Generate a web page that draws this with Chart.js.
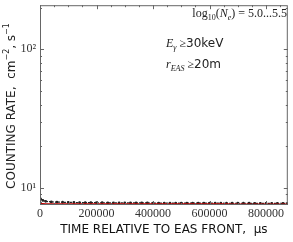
<!DOCTYPE html>
<html>
<head>
<meta charset="utf-8">
<script src="https://cdn.jsdelivr.net/npm/chart.js@4/dist/chart.umd.min.js"></script>
<style>
  html, body { margin: 0; padding: 0; background: #fff; }
</style>
</head>
<body>
<canvas id="chart" width="293" height="242"></canvas>
<script>
// time relative to EAS front, microseconds
const times = [2000, 10000, 20000, 40000, 60000, 80000, 100000, 120000, 140000, 160000,
  180000, 200000, 220000, 240000, 260000, 280000, 300000, 320000, 340000, 360000,
  380000, 400000, 420000, 440000, 460000, 480000, 500000, 520000, 540000, 560000,
  580000, 600000, 620000, 640000, 660000, 680000, 700000, 720000, 740000, 760000,
  780000, 800000, 820000, 840000, 860000, 875000]
// measured counting rate (black points)
const measured = [8.35, 8.15, 8.02, 7.95, 7.92, 7.9, 7.88, 7.87, 7.86, 7.85,
  7.85, 7.84, 7.84, 7.83, 7.83, 7.82, 7.82, 7.82, 7.81, 7.81,
  7.81, 7.8, 7.8, 7.8, 7.8, 7.79, 7.79, 7.79, 7.79, 7.78,
  7.78, 7.78, 7.78, 7.78, 7.77, 7.77, 7.77, 7.77, 7.77, 7.76,
  7.76, 7.76, 7.76, 7.76, 7.75, 7.75]
// background level (red line)
const background = [7.72, 7.72, 7.71, 7.71, 7.71, 7.7, 7.7, 7.7, 7.7, 7.7,
  7.7, 7.7, 7.7, 7.69, 7.69, 7.69, 7.69, 7.69, 7.69, 7.69,
  7.69, 7.69, 7.69, 7.68, 7.68, 7.68, 7.68, 7.68, 7.68, 7.68,
  7.68, 7.68, 7.68, 7.68, 7.68, 7.67, 7.67, 7.67, 7.67, 7.67,
  7.67, 7.67, 7.67, 7.67, 7.67, 7.67]
const xTicks = [0, 200000, 400000, 600000, 800000]
const xMinor = [50000, 100000, 150000, 250000, 300000, 350000, 450000, 500000, 550000,
  650000, 700000, 750000, 850000]
const yTicks = [10, 100]
const yMinor = [8, 9, 20, 30, 40, 50, 60, 70, 80, 90, 200]
const yTickLabels = { 10: "10\u00B9", 100: "10\u00B2" }

const serif = "'Liberation Serif', 'DejaVu Serif', serif"
const sans = "'DejaVu Sans', 'Liberation Sans', sans-serif"

// draws a run of [text, font, dy, gap] pieces
function runWidth(ctx, parts) {
  let w = 0
  parts.forEach(p => { ctx.font = p[1]; w += ctx.measureText(p[0]).width + (p[3] || 0) })
  return w
}
function drawRun(ctx, parts, x, y) {
  parts.forEach(p => {
    ctx.font = p[1]
    ctx.fillText(p[0], x, y + (p[2] || 0))
    x += ctx.measureText(p[0]).width + (p[3] || 0)
  })
}

// inward ticks, frame and the text block
const framePlugin = {
  id: "frame",
  afterDraw(chart) {
    const { ctx, chartArea: a, scales } = chart
    ctx.save()
    ctx.strokeStyle = "#666"
    ctx.lineWidth = 1
    ctx.strokeRect(a.left + 0.5, a.top + 0.5, a.right - a.left - 1, a.bottom - a.top - 1)

    ctx.beginPath()
    const tx = (v, len) => {
      const p = Math.round(scales.x.getPixelForValue(v)) + 0.5
      ctx.moveTo(p, a.bottom); ctx.lineTo(p, a.bottom - len)
      ctx.moveTo(p, a.top); ctx.lineTo(p, a.top + len)
    }
    const ty = (v, len) => {
      const p = Math.round(scales.y.getPixelForValue(v)) + 0.5
      ctx.moveTo(a.left, p); ctx.lineTo(a.left + len, p)
      ctx.moveTo(a.right, p); ctx.lineTo(a.right - len, p)
    }
    xTicks.forEach(v => tx(v, 4))
    xMinor.forEach(v => tx(v, 2))
    yTicks.forEach(v => ty(v, 4))
    yMinor.forEach(v => ty(v, 2))
    ctx.stroke()

    ctx.fillStyle = "#222"
    ctx.textBaseline = "alphabetic"
    ctx.textAlign = "left"
    const m = "12px " + serif, mi = "italic 12px " + serif, s = "8px " + serif, si = "italic 8px " + serif
    const logLine = [["log", m], ["10", s, 3], ["(", m], ["N", mi], ["e", si, 3], [") = 5.0...5.5", m]]
    drawRun(ctx, logLine, 287 - runWidth(ctx, logLine), 17)
    drawRun(ctx, [["E", mi], ["\u03B3", si, 3, 3], ["\u2265", m], ["30keV", "12px " + sans]], 166, 47)
    drawRun(ctx, [["r", mi], ["EAS", si, 3, 3], ["\u2265", m], ["20m", "12px " + sans]], 166, 68)

    // y axis title
    ctx.save()
    ctx.translate(12, 106)
    ctx.rotate(-Math.PI / 2)
    ctx.textBaseline = "middle"
    const t = "12px " + sans, ts = "8px " + sans
    const title = [["COUNTING RATE,  cm", t], ["\u22122", ts, -5], [", s", t], ["\u22121", ts, -5]]
    drawRun(ctx, title, -runWidth(ctx, title) / 2, 0)
    ctx.restore()

    ctx.restore()
  }
}

new Chart(document.getElementById("chart"), {
  type: "line",
  data: {
    labels: times,
    datasets: [
      {
        label: "background",
        data: times.map((t, i) => ({ x: t, y: background[i] })),
        borderColor: "#c00000",
        borderWidth: 1.2,
        pointRadius: 0,
        tension: 0,
      },
      {
        label: "measured",
        data: times.map((t, i) => ({ x: t, y: measured[i] })),
        borderColor: "#222",
        borderWidth: 1.2,
        borderDash: [2, 1],
        pointRadius: 0.8,
        pointBackgroundColor: "#222",
        pointBorderColor: "#222",
        tension: 0,
      },
    ],
  },
  options: {
    responsive: false,
    animation: false,
    devicePixelRatio: 1,
    layout: { padding: { top: 2, right: 4, left: 0, bottom: 0 } },
    plugins: {
      legend: { display: false },
      tooltip: { enabled: false },
    },
    scales: {
      x: {
        type: "linear",
        min: 0,
        max: 877000,
        afterBuildTicks: (s) => { s.ticks = xTicks.map(v => ({ value: v })) },
        afterFit: (s) => { s.height = 37; s.paddingLeft = 0; s.paddingRight = 0 },
        grid: { display: false, drawTicks: false },
        border: { display: false },
        ticks: {
          color: "#333",
          font: { family: serif, size: 12 },
          padding: 2,
          maxRotation: 0,
          callback: (v) => String(v),
        },
        title: {
          display: true,
          text: "TIME RELATIVE TO EAS FRONT,  \u03BCs",
          color: "#111",
          font: { family: sans, size: 12 },
          padding: { top: 0, bottom: 5 },
        },
      },
      y: {
        type: "logarithmic",
        min: 7.55,
        max: 208,
        afterBuildTicks: (s) => { s.ticks = yTicks.map(v => ({ value: v })) },
        afterFit: (s) => { s.width = 40; s.paddingTop = 0; s.paddingBottom = 0 },
        grid: { display: false, drawTicks: false },
        border: { display: false },
        ticks: {
          color: "#333",
          font: { family: serif, size: 12 },
          padding: 4,
          callback: (v) => yTickLabels[v] || "",
        },
      },
    },
  },
  plugins: [framePlugin],
})
</script>
</body>
</html>
